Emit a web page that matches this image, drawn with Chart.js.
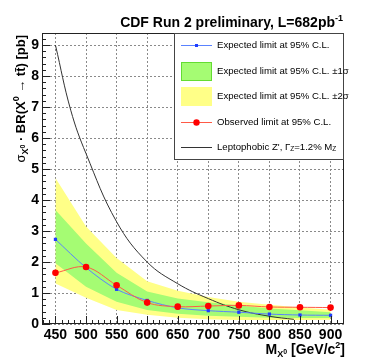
<!DOCTYPE html>
<html>
<head>
<meta charset="utf-8">
<script src="https://cdn.jsdelivr.net/npm/chart.js@4/dist/chart.umd.min.js"></script>
<style>
  html, body { margin: 0; padding: 0; background: #fff; }
  #wrap { width: 374px; height: 362px; }
</style>
</head>
<body>
<div id="wrap"><canvas id="limitChart" width="374" height="362"></canvas></div>
<script>
// Masas y límites (pb)
const masas = [450, 500, 550, 600, 650, 700, 750, 800, 850, 900];
const limiteEsperado = [2.73, 1.82, 1.12, 0.76, 0.52, 0.43, 0.38, 0.32, 0.29, 0.28];
const limiteObservado = [1.65, 1.84, 1.25, 0.69, 0.56, 0.58, 0.60, 0.55, 0.54, 0.53];
const esperadoMas1 = [3.68, 2.60, 1.65, 1.05, 0.82, 0.70, 0.60, 0.50, 0.44, 0.38];
const esperadoMenos1 = [1.96, 1.20, 0.72, 0.45, 0.33, 0.27, 0.23, 0.20, 0.19, 0.19];
const esperadoMas2 = [4.71, 3.15, 2.13, 1.38, 1.07, 0.87, 0.72, 0.62, 0.53, 0.46];
const esperadoMenos2 = [1.31, 0.85, 0.45, 0.30, 0.20, 0.15, 0.13, 0.13, 0.13, 0.14];

// Curva teórica Z' leptofóbico
const masasZ = [450, 475, 500, 550, 600, 650, 700, 750, 800, 840];
const seccionZ = [9.0, 6.9, 5.5, 3.3, 2.0, 1.3, 0.82, 0.46, 0.25, 0.15];

// Marcas de los ejes
const ticksX = [450, 500, 550, 600, 650, 700, 750, 800, 850, 900];
const ticksY = [0, 1, 2, 3, 4, 5, 6, 7, 8, 9];

const FUENTE = '"Liberation Sans", Arial, sans-serif';
const VERDE = 'rgb(165,252,115)';
const AMARILLO = 'rgb(255,255,135)';

function puntos(xs, ys) {
    return xs.map((x, i) => ({ x: x, y: ys[i] }));
}

// Dibuja texto con subíndices / superíndices
function textoRico(ctx, partes, x, y, align) {
    let total = 0;
    partes.forEach(p => {
        ctx.font = (p.normal ? '' : 'bold ') + p.size + 'px ' + FUENTE;
        p.w = ctx.measureText(p.t).width;
        total += p.w;
    });
    let cx = align === 'right' ? x - total : x;
    partes.forEach(p => {
        ctx.font = (p.normal ? '' : 'bold ') + p.size + 'px ' + FUENTE;
        ctx.fillText(p.t, cx, y + (p.dy || 0));
        cx += p.w;
    });
}

const marcoRoot = {
    id: 'marcoRoot',
    afterDraw(chart) {
        const ctx = chart.ctx;
        const a = chart.chartArea;
        const sx = chart.scales.x;
        const sy = chart.scales.y;
        ctx.save();

        // marco
        ctx.strokeStyle = '#222';
        ctx.lineWidth = 1;
        ctx.strokeRect(a.left + 0.5, a.top + 0.5, a.right - a.left - 1, a.bottom - a.top - 1);

        // marcas hacia adentro
        ctx.beginPath();
        for (let v = 430; v <= 920; v += 10) {
            const px = Math.round(sx.getPixelForValue(v)) + 0.5;
            const largo = v % 50 === 0 ? 8 : 4;
            ctx.moveTo(px, a.bottom);
            ctx.lineTo(px, a.bottom - largo);
        }
        for (let k = 0; k <= 46; k++) {
            const v = k * 0.2;
            const py = Math.round(sy.getPixelForValue(v)) + 0.5;
            const largo = k % 5 === 0 ? 8 : 4;
            ctx.moveTo(a.left, py);
            ctx.lineTo(a.left + largo, py);
        }
        ctx.stroke();

        ctx.fillStyle = '#000';
        ctx.textBaseline = 'alphabetic';

        // título
        textoRico(ctx, [
            { t: 'CDF Run 2 preliminary, L=682pb', size: 14 },
            { t: '-1', size: 9, dy: -6 }
        ], 343, 27, 'right');

        // título eje X
        textoRico(ctx, [
            { t: 'M', size: 14 },
            { t: 'X', size: 9, dy: 3 },
            { t: '0', size: 7, dy: 0 },
            { t: ' [GeV/c', size: 14 },
            { t: '2', size: 9, dy: -6 },
            { t: ']', size: 14 }
        ], 345, 354, 'right');

        // título eje Y
        ctx.save();
        ctx.translate(25, 35);
        ctx.rotate(-Math.PI / 2);
        textoRico(ctx, [
            { t: 'σ', size: 13, normal: true },
            { t: 'X', size: 9, dy: 3 },
            { t: '0', size: 7, dy: 0 },
            { t: ' · BR(X', size: 13 },
            { t: '0', size: 9, dy: -6 },
            { t: ' → t', size: 13 },
            { t: 't\u0304', size: 13 },
            { t: ') [pb]', size: 13 }
        ], 0, 0, 'right');
        ctx.restore();

        // leyenda
        const lx = 174, ly = 33, lw = 170, lh = 127;
        ctx.fillStyle = '#fff';
        ctx.fillRect(lx, ly, lw, lh);
        ctx.strokeStyle = '#444';
        ctx.strokeRect(lx + 0.5, ly + 0.5, lw - 1, lh - 1);

        const x0 = 181, x1 = 212, xt = 217;
        // esperado
        ctx.strokeStyle = 'rgb(90,130,255)';
        ctx.beginPath(); ctx.moveTo(x0, 45.5); ctx.lineTo(x1, 45.5); ctx.stroke();
        ctx.fillStyle = 'rgb(30,60,255)';
        ctx.fillRect(195, 44, 3, 3);
        // banda 1 sigma
        ctx.fillStyle = VERDE;
        ctx.fillRect(x0, 62, x1 - x0, 19);
        ctx.strokeStyle = 'rgb(100,220,50)';
        ctx.strokeRect(x0 + 0.5, 62.5, x1 - x0 - 1, 18);
        // banda 2 sigma
        ctx.fillStyle = AMARILLO;
        ctx.fillRect(x0, 87, x1 - x0, 19);
        // observado
        ctx.strokeStyle = 'rgb(255,90,70)';
        ctx.beginPath(); ctx.moveTo(x0, 122.5); ctx.lineTo(x1, 122.5); ctx.stroke();
        ctx.fillStyle = 'rgb(255,0,0)';
        ctx.beginPath(); ctx.arc(196.5, 122.5, 3.2, 0, Math.PI * 2); ctx.fill();
        // teoría
        ctx.strokeStyle = '#333';
        ctx.beginPath(); ctx.moveTo(x0, 147.5); ctx.lineTo(x1, 147.5); ctx.stroke();

        ctx.fillStyle = '#000';
        ctx.textBaseline = 'middle';
        const textos = [
            [45, 'Expected limit at 95% C.L.'],
            [71, 'Expected limit at 95% C.L. ±1σ'],
            [96, 'Expected limit at 95% C.L. ±2σ'],
            [122, 'Observed limit at 95% C.L.']
        ];
        textos.forEach(([y, t]) => textoRico(ctx, [{ t: t, size: 9.6, normal: true }], xt, y, 'left'));
        textoRico(ctx, [
            { t: "Leptophobic Z', Γ", size: 9.6, normal: true },
            { t: 'Z', size: 6.5, normal: true, dy: 2 },
            { t: '=1.2% M', size: 9.6, normal: true },
            { t: 'Z', size: 6.5, normal: true, dy: 2 }
        ], xt, 147, 'left');

        ctx.restore();
    }
};

function crearGrafica() {
    const ctx = document.getElementById('limitChart').getContext('2d');
    new Chart(ctx, {
        type: 'line',
        data: {
            datasets: [
                {
                    label: 'Observed limit at 95% C.L.',
                    data: puntos(masas, limiteObservado),
                    borderColor: 'rgb(255,90,70)',
                    borderWidth: 1,
                    pointBackgroundColor: 'rgb(255,0,0)',
                    pointBorderWidth: 0,
                    pointRadius: 3.3,
                    tension: 0.35,
                    fill: false
                },
                {
                    label: 'Expected limit at 95% C.L.',
                    data: puntos(masas, limiteEsperado),
                    borderColor: 'rgb(90,130,255)',
                    borderWidth: 1,
                    pointStyle: 'rect',
                    pointBackgroundColor: 'rgb(30,60,255)',
                    pointBorderWidth: 0,
                    pointRadius: 2.3,
                    tension: 0.3,
                    fill: false
                },
                {
                    label: "Leptophobic Z'",
                    data: puntos(masasZ, seccionZ),
                    borderColor: '#333',
                    borderWidth: 1,
                    pointRadius: 0,
                    tension: 0.4,
                    fill: false
                },
                {
                    label: '+1 sigma',
                    data: puntos(masas, esperadoMas1),
                    borderWidth: 0,
                    pointRadius: 0,
                    backgroundColor: VERDE,
                    fill: '+1'
                },
                {
                    label: '-1 sigma',
                    data: puntos(masas, esperadoMenos1),
                    borderWidth: 0,
                    pointRadius: 0,
                    fill: false
                },
                {
                    label: '+2 sigma',
                    data: puntos(masas, esperadoMas2),
                    borderWidth: 0,
                    pointRadius: 0,
                    backgroundColor: AMARILLO,
                    fill: '+1'
                },
                {
                    label: '-2 sigma',
                    data: puntos(masas, esperadoMenos2),
                    borderWidth: 0,
                    pointRadius: 0,
                    fill: false
                }
            ]
        },
        options: {
            responsive: false,
            animation: false,
            layout: { padding: { top: 33, right: 30, left: 0, bottom: 0 } },
            plugins: {
                legend: { display: false },
                tooltip: { enabled: false }
            },
            scales: {
                x: {
                    type: 'linear',
                    min: 428,
                    max: 922,
                    afterFit: s => { s.height = 38; },
                    afterBuildTicks: s => { s.ticks = ticksX.map(v => ({ value: v })); },
                    grid: { color: '#8a8a8a', drawTicks: false },
                    border: { display: false, dash: [2, 2] },
                    ticks: {
                        padding: 3,
                        color: '#000',
                        maxRotation: 0,
                        autoSkip: false,
                        font: { family: FUENTE, size: 14, weight: 'bold' }
                    }
                },
                y: {
                    type: 'linear',
                    min: 0,
                    max: 9.39,
                    afterFit: s => { s.width = 42; },
                    afterBuildTicks: s => { s.ticks = ticksY.map(v => ({ value: v })); },
                    grid: { color: '#8a8a8a', drawTicks: false },
                    border: { display: false, dash: [2, 2] },
                    ticks: {
                        padding: 3,
                        color: '#000',
                        autoSkip: false,
                        font: { family: FUENTE, size: 14, weight: 'bold' }
                    }
                }
            }
        },
        plugins: [marcoRoot]
    });
}

document.addEventListener('DOMContentLoaded', crearGrafica);
</script>
</body>
</html>
